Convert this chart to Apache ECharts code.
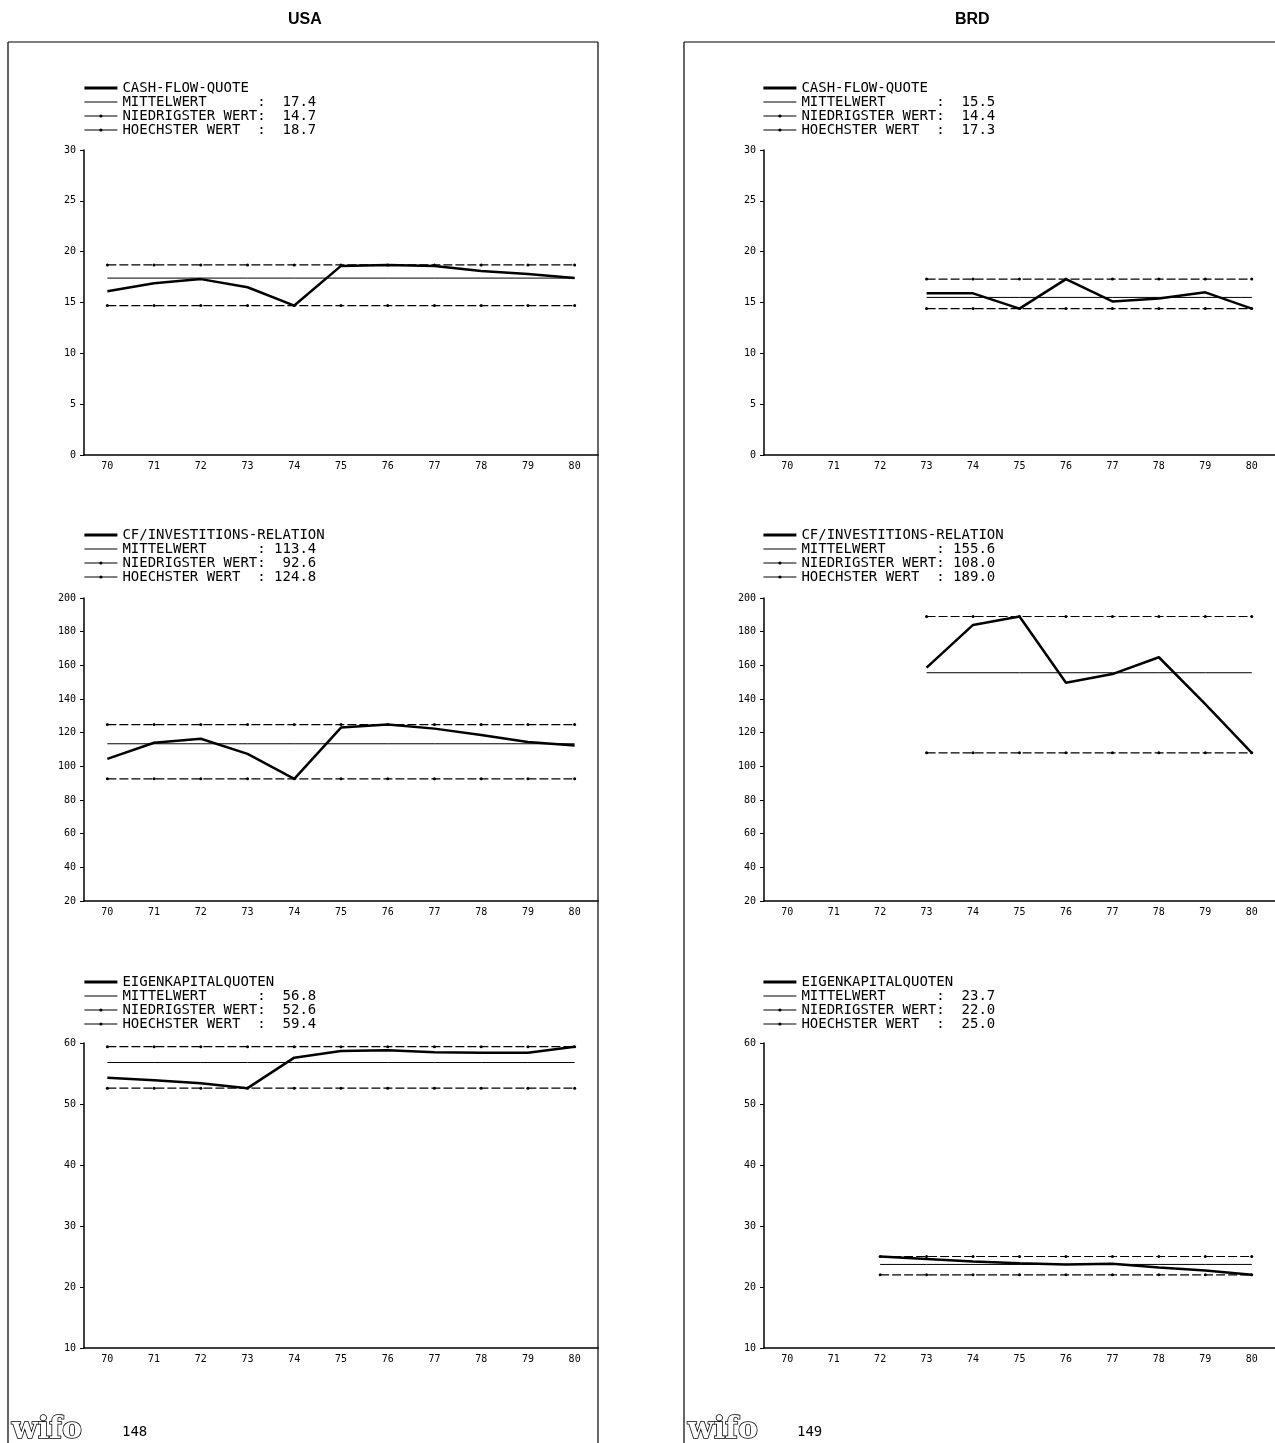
<!DOCTYPE html>
<html>
<head>
<meta charset="utf-8">
<script src="https://cdn.jsdelivr.net/npm/echarts@6/dist/echarts.min.js"></script>
<style>
  html, body { margin: 0; padding: 0; background: #fff; }
  #chart { width: 1275px; height: 1443px; }
</style>
</head>
<body>
<div id="chart"></div>
<script>
// ---- data ----
const years = ['70', '71', '72', '73', '74', '75', '76', '77', '78', '79', '80'];
const panelTitles = ['USA', 'BRD'];
const pageNumbers = ['148', '149'];
const chartTitles = ['CASH-FLOW-QUOTE', 'CF/INVESTITIONS-RELATION', 'EIGENKAPITALQUOTEN'];
const statLabels = ['MITTELWERT      ', 'NIEDRIGSTER WERT', 'HOECHSTER WERT  '];

// USA
const usaCF = [16.1, 16.9, 17.3, 16.5, 14.7, 18.6, 18.7, 18.6, 18.1, 17.8, 17.4];
const usaCFStats = [17.4, 14.7, 18.7];          // mean, min, max
const usaCFI = [104.4, 114.0, 116.4, 107.4, 92.6, 123.0, 124.8, 122.4, 118.6, 114.4, 112.4];
const usaCFIStats = [113.4, 92.6, 124.8];
const usaEK = [54.3, 53.9, 53.4, 52.6, 57.6, 58.7, 58.8, 58.5, 58.4, 58.4, 59.4];
const usaEKStats = [56.8, 52.6, 59.4];

// BRD
const brdCF = [null, null, null, 15.9, 15.9, 14.4, 17.3, 15.1, 15.4, 16.0, 14.4];
const brdCFStats = [15.5, 14.4, 17.3];
const brdCFI = [null, null, null, 158.6, 184.0, 189.0, 149.6, 154.8, 164.8, 137.0, 108.0];
const brdCFIStats = [155.6, 108.0, 189.0];
const brdEK = [null, null, 25.0, 24.6, 24.2, 23.9, 23.7, 23.8, 23.2, 22.7, 22.0];
const brdEKStats = [23.7, 22.0, 25.0];

// y-axis scales (min, max, interval) per row
const yMins = [0, 20, 10];
const yMaxs = [30, 200, 60];
const yIntervals = [5, 20, 10];

// ---- build option ----
const panels = [
  [[usaCF, usaCFStats], [usaCFI, usaCFIStats], [usaEK, usaEKStats]],
  [[brdCF, brdCFStats], [brdCFI, brdCFIStats], [brdEK, brdEKStats]]
];

const gridLefts = [84, 764];
const gridTops = [150, 598, 1043];
const gridHeights = [305, 303, 305];
const legendTops = [81, 528, 975];
const legendLefts = [83, 762];

const MONO = "'DejaVu Sans Mono', 'Liberation Mono', monospace";
const option = {
  animation: false,
  backgroundColor: '#fff',
  grid: [], xAxis: [], yAxis: [], series: [], legend: [], graphic: []
};

const labelMap = {};

panels.forEach((rows, p) => {
  rows.forEach(([vals, stats], r) => {
    const gi = p * 3 + r;
    option.grid.push({ left: gridLefts[p], width: 514, top: gridTops[r], height: gridHeights[r] });
    option.xAxis.push({
      type: 'category', gridIndex: gi, data: years, boundaryGap: true,
      axisLine: { lineStyle: { color: '#000', width: 1.5 } },
      axisTick: { inside: true, length: 4, lineStyle: { color: '#000' } },
      axisLabel: { color: '#000', fontFamily: MONO, fontSize: 10, margin: 6 },
      splitLine: { show: false }
    });
    option.yAxis.push({
      type: 'value', gridIndex: gi, min: yMins[r], max: yMaxs[r], interval: yIntervals[r],
      axisLine: { show: true, lineStyle: { color: '#000', width: 1.5 } },
      axisTick: { show: true, length: 4, lineStyle: { color: '#000' } },
      axisLabel: { color: '#000', fontFamily: MONO, fontSize: 10, margin: 8 },
      splitLine: { show: false }
    });
    const base = 'p' + p + 'r' + r;
    const names = [base + 'cf', base + 'mean', base + 'min', base + 'max'];
    labelMap[names[0]] = chartTitles[r];
    for (let k = 0; k < 3; k++) {
      labelMap[names[k + 1]] = statLabels[k] + ':' + stats[k].toFixed(1).padStart(6, ' ');
    }
    // main line
    option.series.push({
      name: names[0], type: 'line', xAxisIndex: gi, yAxisIndex: gi, data: vals,
      symbol: 'none', connectNulls: false,
      lineStyle: { color: '#000', width: 2.5 }, itemStyle: { color: '#000' }
    });
    // stat lines
    const statStyles = [
      { width: 1, type: 'solid', symbol: 'none' },
      { width: 1.2, type: [9, 3], symbol: 'circle' },
      { width: 1.2, type: [9, 3], symbol: 'circle' }
    ];
    for (let k = 0; k < 3; k++) {
      const st = statStyles[k];
      option.series.push({
        name: names[k + 1], type: 'line', xAxisIndex: gi, yAxisIndex: gi,
        data: vals.map(v => (v == null ? null : stats[k])),
        symbol: st.symbol, symbolSize: 3, showSymbol: st.symbol !== 'none',
        lineStyle: { color: '#000', width: st.width, type: st.type },
        itemStyle: { color: '#000' }, z: 1
      });
    }
    const legendLineWidths = [2.8, 1, 1.2, 1.2];
    option.legend.push({
      left: legendLefts[p], top: legendTops[r], orient: 'vertical',
      data: names.map((n, i) => ({
        name: n,
        itemStyle: { opacity: i < 2 ? 0 : 1 },
        lineStyle: { type: 'solid', width: legendLineWidths[i], color: '#000' }
      })),
      itemWidth: 33, itemHeight: 4, itemGap: 0, padding: 0,
      selectedMode: false,
      textStyle: { color: '#000', fontFamily: MONO, fontSize: 14, lineHeight: 14 },
      formatter: name => labelMap[name]
    });
  });
});

// frames, titles, logos, page numbers
const frameStyle = { stroke: '#000', lineWidth: 1.2 };
option.graphic.push(
  { type: 'line', shape: { x1: 8, y1: 42, x2: 598, y2: 42 }, style: frameStyle, silent: true },
  { type: 'line', shape: { x1: 8, y1: 42, x2: 8, y2: 1443 }, style: frameStyle, silent: true },
  { type: 'line', shape: { x1: 598, y1: 42, x2: 598, y2: 1443 }, style: frameStyle, silent: true },
  { type: 'line', shape: { x1: 684, y1: 42, x2: 1275, y2: 42 }, style: frameStyle, silent: true },
  { type: 'line', shape: { x1: 684, y1: 42, x2: 684, y2: 1443 }, style: frameStyle, silent: true }
);
const titleX = [303, 970];
const logoX = [11, 687];
const pageX = [122, 797];
panelTitles.forEach((t, p) => {
  option.graphic.push({
    type: 'text', left: titleX[p] - 15, top: 12, silent: true,
    style: { text: t, fill: '#000', font: "bold 16px 'Liberation Sans', Arial, sans-serif" }
  });
  option.graphic.push({
    type: 'text', left: logoX[p], top: 1414, silent: true,
    style: { text: 'wifo', fill: '#fff', stroke: '#000', lineWidth: 1.6,
             font: "bold 30px 'DejaVu Serif', serif" }
  });
  option.graphic.push({
    type: 'text', left: pageX[p], top: 1425, silent: true,
    style: { text: pageNumbers[p], fill: '#000', font: "14px 'DejaVu Sans Mono', monospace" }
  });
});

const chart = echarts.init(document.getElementById('chart'), null, { renderer: 'canvas' });
chart.setOption(option);
</script>
</body>
</html>
